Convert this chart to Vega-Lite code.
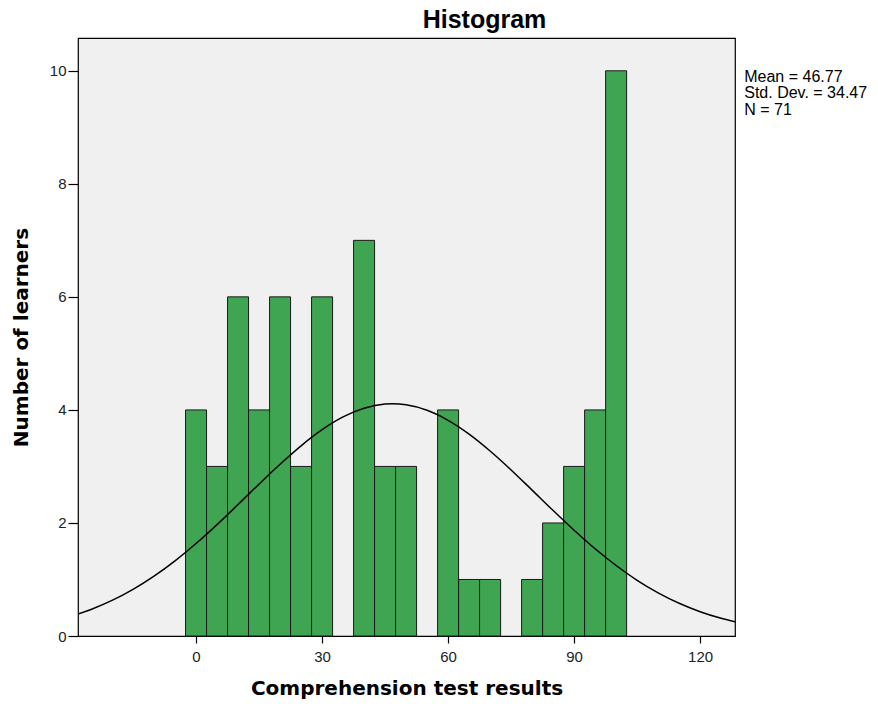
{
  "$schema": "https://vega.github.io/schema/vega-lite/v6.json",
  "width": 657,
  "height": 598,
  "autosize": {"type": "none"},
  "padding": {"left": 78, "top": 38, "right": 143, "bottom": 68},
  "background": "white",
  "title": {"text": "Histogram", "font": "Liberation Sans", "fontSize": 25, "fontWeight": "bold", "color": "#000000", "offset": 5, "anchor": "middle", "dx": 78},
  "config": {
    "view": {"fill": "#F0F0F0", "stroke": "#000000", "strokeWidth": 1.2},
    "axis": {"grid": false, "domain": false, "tickColor": "#000000", "tickWidth": 1.2, "labelFont": "Liberation Sans", "labelFontSize": 15, "labelColor": "#222222", "titleFont": "DejaVu Sans", "titleFontWeight": "bold", "titleFontSize": 20, "titleColor": "#000000"}
  },
  "datasets": {
    "bins": [
      {"bin_start": -2.5, "bin_end": 2.5, "count": 4},
      {"bin_start": 2.5, "bin_end": 7.5, "count": 3},
      {"bin_start": 7.5, "bin_end": 12.5, "count": 6},
      {"bin_start": 12.5, "bin_end": 17.5, "count": 4},
      {"bin_start": 17.5, "bin_end": 22.5, "count": 6},
      {"bin_start": 22.5, "bin_end": 27.5, "count": 3},
      {"bin_start": 27.5, "bin_end": 32.5, "count": 6},
      {"bin_start": 37.5, "bin_end": 42.5, "count": 7},
      {"bin_start": 42.5, "bin_end": 47.5, "count": 3},
      {"bin_start": 47.5, "bin_end": 52.5, "count": 3},
      {"bin_start": 57.5, "bin_end": 62.5, "count": 4},
      {"bin_start": 62.5, "bin_end": 67.5, "count": 1},
      {"bin_start": 67.5, "bin_end": 72.5, "count": 1},
      {"bin_start": 77.5, "bin_end": 82.5, "count": 1},
      {"bin_start": 82.5, "bin_end": 87.5, "count": 2},
      {"bin_start": 87.5, "bin_end": 92.5, "count": 3},
      {"bin_start": 92.5, "bin_end": 97.5, "count": 4},
      {"bin_start": 97.5, "bin_end": 102.5, "count": 10}
    ],
    "curve": [
      {"x": -30, "y": 0.344}, {"x": -25, "y": 0.470}, {"x": -20, "y": 0.629}, {"x": -15, "y": 0.825},
      {"x": -10, "y": 1.059}, {"x": -5, "y": 1.330}, {"x": 0, "y": 1.636}, {"x": 5, "y": 1.971},
      {"x": 10, "y": 2.326}, {"x": 15, "y": 2.687}, {"x": 20, "y": 3.038}, {"x": 25, "y": 3.365},
      {"x": 30, "y": 3.650}, {"x": 35, "y": 3.876}, {"x": 40, "y": 4.030}, {"x": 45, "y": 4.103},
      {"x": 46.77, "y": 4.108}, {"x": 50, "y": 4.090}, {"x": 55, "y": 3.993}, {"x": 60, "y": 3.816},
      {"x": 65, "y": 3.572}, {"x": 70, "y": 3.273}, {"x": 75, "y": 2.938}, {"x": 80, "y": 2.581},
      {"x": 85, "y": 2.221}, {"x": 90, "y": 1.871}, {"x": 95, "y": 1.543}, {"x": 100, "y": 1.247},
      {"x": 105, "y": 0.986}, {"x": 110, "y": 0.764}, {"x": 115, "y": 0.579}, {"x": 120, "y": 0.430},
      {"x": 125, "y": 0.313}, {"x": 130, "y": 0.223}
    ],
    "stats": [
      {"stats": ["Mean = 46.77", "Std. Dev. = 34.47", "N = 71"]}
    ]
  },
  "layer": [
    {
      "data": {"name": "bins"},
      "mark": {"type": "rect", "fill": "#3FA552", "stroke": "#1A1A1A", "strokeWidth": 1},
      "encoding": {
        "x": {"field": "bin_start", "type": "quantitative", "scale": {"domain": [-28.1, 128.3], "nice": false, "zero": false}, "axis": {"values": [0, 30, 60, 90, 120], "format": "d", "title": "Comprehension test results", "tickSize": 7, "titlePadding": 14, "labelPadding": 6, "labelFontSize": 15}},
        "x2": {"field": "bin_end"},
        "y": {"field": "count", "type": "quantitative", "scale": {"domain": [0, 10.58], "nice": false}, "axis": {"values": [0, 2, 4, 6, 8, 10], "format": "d", "title": "Number of learners", "tickSize": 10, "titlePadding": 18, "labelPadding": 2, "labelFontSize": 15}},
        "y2": {"datum": 0}
      }
    },
    {
      "data": {"name": "curve"},
      "mark": {"type": "line", "color": "#000000", "strokeWidth": 1.5, "interpolate": "monotone", "clip": true},
      "encoding": {
        "x": {"field": "x", "type": "quantitative"},
        "y": {"field": "y", "type": "quantitative"}
      }
    },
    {
      "data": {"name": "stats"},
      "mark": {"type": "text", "align": "left", "baseline": "top", "font": "Liberation Sans", "fontSize": 16, "lineHeight": 16.5, "color": "#000000", "clip": false},
      "encoding": {
        "x": {"datum": 130.5, "type": "quantitative"},
        "y": {"datum": 10.04, "type": "quantitative"},
        "text": {"field": "stats", "type": "nominal"}
      }
    }
  ]
}
